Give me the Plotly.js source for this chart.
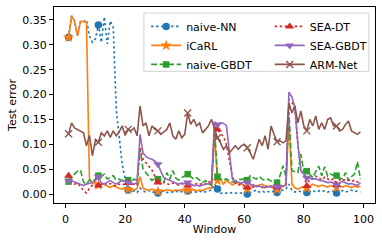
<!DOCTYPE html>
<html>
<head>
<meta charset="utf-8">
<script src="https://cdn.plot.ly/plotly-3.0.1.min.js"></script>
<style>html,body{margin:0;padding:0;background:#fff;}#chart{width:382px;height:244px;}</style>
</head>
<body>
<div id="chart"></div>
<script>
// Windows 1..99
const windows = Array.from({length: 99}, (_, i) => i + 1);

const naiveNN = [0.315,0.358,0.348,0.318,0.347,0.347,0.350,0.318,0.305,0.312,
0.340,0.305,0.356,0.302,0.348,0.335,0.170,0.110,0.060,0.030,
0.008,0.004,0.006,0.003,0.012,0.006,0.004,0.007,0.003,0.005,
0.002,0.004,0.006,0.003,0.005,0.004,0.006,0.003,0.005,0.004,
0.006,0.003,0.005,0.004,0.006,0.003,0.005,0.006,0.008,0.020,
0.010,0.002,0.001,0.002,0.001,0.003,0.002,0.001,0.002,0.003,
0.000,0.003,0.006,0.008,0.004,0.006,0.003,0.005,0.004,0.006,
0.003,0.006,0.008,0.010,0.020,0.008,0.004,0.006,0.005,0.004,
0.003,0.005,0.007,0.004,0.006,0.008,0.005,0.004,0.006,0.005,
0.002,0.005,0.007,0.004,0.006,0.008,0.005,0.006,0.004];

const iCaRL = [0.315,0.358,0.348,0.318,0.347,0.347,0.345,0.030,0.022,0.024,
0.018,0.021,0.019,0.016,0.013,0.017,0.014,0.011,0.010,0.013,
0.009,0.010,0.008,0.011,0.035,0.012,0.009,0.007,0.010,0.008,
0.005,0.008,0.006,0.009,0.007,0.006,0.008,0.007,0.009,0.006,
0.008,0.007,0.009,0.006,0.008,0.007,0.010,0.012,0.011,0.120,
0.027,0.030,0.020,0.027,0.023,0.018,0.022,0.023,0.020,0.018,
0.010,0.017,0.019,0.015,0.018,0.020,0.016,0.015,0.017,0.013,
0.009,0.013,0.015,0.018,0.150,0.020,0.012,0.010,0.013,0.015,
0.012,0.016,0.020,0.017,0.015,0.018,0.016,0.014,0.017,0.015,
0.013,0.016,0.014,0.017,0.015,0.013,0.016,0.014,0.015];

const naiveGBDT = [0.025,0.033,0.040,0.046,0.048,0.024,0.020,0.028,0.025,0.030,
0.037,0.035,0.040,0.030,0.034,0.037,0.028,0.030,0.027,0.032,
0.028,0.025,0.030,0.028,0.090,0.050,0.043,0.035,0.027,0.033,
0.030,0.028,0.023,0.043,0.030,0.047,0.032,0.028,0.033,0.036,
0.040,0.035,0.030,0.033,0.027,0.023,0.027,0.020,0.018,0.135,
0.035,0.030,0.028,0.031,0.026,0.024,0.027,0.030,0.029,0.031,
0.028,0.037,0.033,0.030,0.035,0.030,0.027,0.030,0.026,0.025,
0.023,0.037,0.057,0.035,0.165,0.047,0.045,0.043,0.080,0.045,
0.046,0.040,0.033,0.045,0.056,0.037,0.055,0.036,0.040,0.038,
0.037,0.033,0.030,0.043,0.027,0.035,0.040,0.065,0.030];

const seaDT = [0.037,0.025,0.020,0.022,0.015,0.007,0.002,0.012,0.018,0.016,
0.017,0.020,0.022,0.019,0.021,0.018,0.016,0.020,0.018,0.021,
0.022,0.019,0.020,0.018,0.095,0.070,0.063,0.057,0.048,0.035,
0.023,0.020,0.024,0.021,0.019,0.022,0.020,0.018,0.021,0.019,
0.017,0.020,0.018,0.021,0.019,0.022,0.020,0.025,0.022,0.135,
0.130,0.122,0.116,0.100,0.070,0.035,0.022,0.018,0.020,0.016,
0.013,0.016,0.014,0.017,0.015,0.013,0.016,0.014,0.015,0.013,
0.013,0.015,0.017,0.020,0.190,0.185,0.170,0.100,0.048,0.038,
0.016,0.030,0.030,0.036,0.033,0.028,0.034,0.030,0.027,0.031,
0.018,0.029,0.026,0.030,0.027,0.025,0.028,0.024,0.026];

const seaGBDT = [0.026,0.027,0.024,0.022,0.020,0.017,0.020,0.022,0.023,0.027,
0.035,0.022,0.020,0.024,0.027,0.023,0.020,0.024,0.027,0.025,
0.023,0.021,0.020,0.023,0.120,0.083,0.075,0.072,0.070,0.066,
0.060,0.045,0.033,0.030,0.027,0.025,0.022,0.020,0.022,0.021,
0.023,0.019,0.017,0.018,0.016,0.018,0.019,0.020,0.022,0.145,
0.140,0.143,0.142,0.138,0.080,0.030,0.025,0.023,0.022,0.024,
0.023,0.020,0.017,0.015,0.016,0.014,0.013,0.015,0.014,0.016,
0.015,0.014,0.016,0.018,0.205,0.195,0.175,0.100,0.047,0.040,
0.033,0.032,0.030,0.031,0.028,0.027,0.025,0.023,0.024,0.022,
0.018,0.023,0.025,0.022,0.020,0.021,0.019,0.017,0.023];

const armNet = [0.121,0.143,0.133,0.130,0.126,0.123,0.097,0.118,0.077,0.108,
0.104,0.123,0.117,0.127,0.114,0.127,0.117,0.125,0.137,0.118,
0.130,0.127,0.133,0.117,0.177,0.137,0.143,0.117,0.137,0.130,
0.127,0.120,0.125,0.130,0.143,0.117,0.110,0.127,0.113,0.120,
0.163,0.140,0.150,0.137,0.143,0.123,0.130,0.137,0.150,0.130,
0.113,0.103,0.090,0.097,0.083,0.090,0.097,0.090,0.097,0.100,
0.093,0.083,0.070,0.090,0.110,0.097,0.117,0.090,0.137,0.120,
0.105,0.107,0.103,0.107,0.183,0.163,0.177,0.143,0.167,0.137,
0.127,0.150,0.137,0.157,0.130,0.143,0.130,0.150,0.153,0.137,
0.137,0.127,0.130,0.140,0.147,0.127,0.123,0.120,0.125];

const xTicks = [0, 20, 40, 60, 80, 100];
const yTicks = [0.00, 0.05, 0.10, 0.15, 0.20, 0.25, 0.30, 0.35];

const series = [
  {name: 'naive-NN',   y: naiveNN,   color: '#1f77b4', dash: '2.4px,2.6px', symbol: 'circle',        size: 7.5, legend: 'legend'},
  {name: 'iCaRL',      y: iCaRL,     color: '#ff7f0e', dash: 'solid',       symbol: 'star',          size: 8.5, legend: 'legend'},
  {name: 'naive-GBDT', y: naiveGBDT, color: '#2ca02c', dash: '5.9px,2.6px', symbol: 'square',        size: 6.5, legend: 'legend'},
  {name: 'SEA-DT',     y: seaDT,     color: '#d62728', dash: '2.4px,2.6px', symbol: 'triangle-up',   size: 8,   legend: 'legend2'},
  {name: 'SEA-GBDT',   y: seaGBDT,   color: '#9467bd', dash: 'solid',       symbol: 'triangle-down', size: 8,   legend: 'legend2'},
  {name: 'ARM-Net',    y: armNet,    color: '#8c564b', dash: 'solid',       symbol: 'x-thin',        size: 7,   legend: 'legend2'}
];

const LW = 1.6;
const traces = [];
series.forEach(s => {
  traces.push({
    x: windows, y: s.y, type: 'scatter', mode: 'lines',
    line: {color: s.color, width: LW, dash: s.dash},
    showlegend: false, hoverinfo: 'skip'
  });
  const mx = windows.filter((_, i) => i % 10 === 0);
  const my = s.y.filter((_, i) => i % 10 === 0);
  traces.push({
    x: mx, y: my, type: 'scatter', mode: 'markers',
    marker: {color: s.color, size: s.size, symbol: s.symbol,
             line: {color: s.color, width: s.symbol === 'x-thin' ? 1.4 : 0}},
    showlegend: false, hoverinfo: 'skip'
  });
});
series.forEach(s => {
  traces.push({
    x: [null], y: [null], type: 'scatter', mode: 'lines+markers', name: s.name,
    legend: s.legend,
    line: {color: s.color, width: LW, dash: s.dash},
    marker: {color: s.color, size: s.size, symbol: s.symbol,
             line: {color: s.color, width: s.symbol === 'x-thin' ? 1.4 : 0}}
  });
});

const font = {family: 'DejaVu Sans, sans-serif', size: 11, color: '#000'};
const legFont = {family: 'DejaVu Sans, sans-serif', size: 11, color: '#000'};

const layout = {
  width: 382, height: 244,
  margin: {l: 54, r: 7, t: 7, b: 41},
  paper_bgcolor: '#fff', plot_bgcolor: '#fff',
  font: font,
  showlegend: true,
  legend: {
    x: 0.287, y: 0.975, xanchor: 'left', yanchor: 'top',
    bgcolor: 'rgba(0,0,0,0)', borderwidth: 0, font: legFont, traceorder: 'normal'
  },
  legend2: {
    x: 0.672, y: 0.975, xanchor: 'left', yanchor: 'top',
    bgcolor: 'rgba(0,0,0,0)', borderwidth: 0, font: legFont, traceorder: 'normal'
  },
  shapes: [{
    type: 'rect', xref: 'paper', yref: 'paper', layer: 'above',
    x0: 0.28, x1: 0.981, y0: 0.672, y1: 0.969,
    line: {color: '#d0d0d0', width: 1}, fillcolor: 'rgba(255,255,255,0.85)'
  }],
  xaxis: {
    range: [-3.9, 103.9], tickvals: xTicks, ticktext: xTicks.map(String),
    showgrid: false, zeroline: false,
    showline: true, linecolor: '#000', linewidth: 1, mirror: true,
    ticks: 'outside', ticklen: 4, tickcolor: '#000', tickwidth: 1,
    ticklabelstandoff: 2,
    tickfont: font,
    title: {text: 'Window', font: font, standoff: 0}
  },
  yaxis: {
    range: [-0.018, 0.376], tickvals: yTicks, ticktext: yTicks.map(v => v.toFixed(2)),
    showgrid: false, zeroline: false,
    showline: true, linecolor: '#000', linewidth: 1, mirror: true,
    ticks: 'outside', ticklen: 4, tickcolor: '#000', tickwidth: 1,
    tickfont: font,
    title: {text: 'Test error', font: font, standoff: 3}
  }
};

Plotly.newPlot('chart', traces, layout, {staticPlot: true, displayModeBar: false});
</script>
</body>
</html>
